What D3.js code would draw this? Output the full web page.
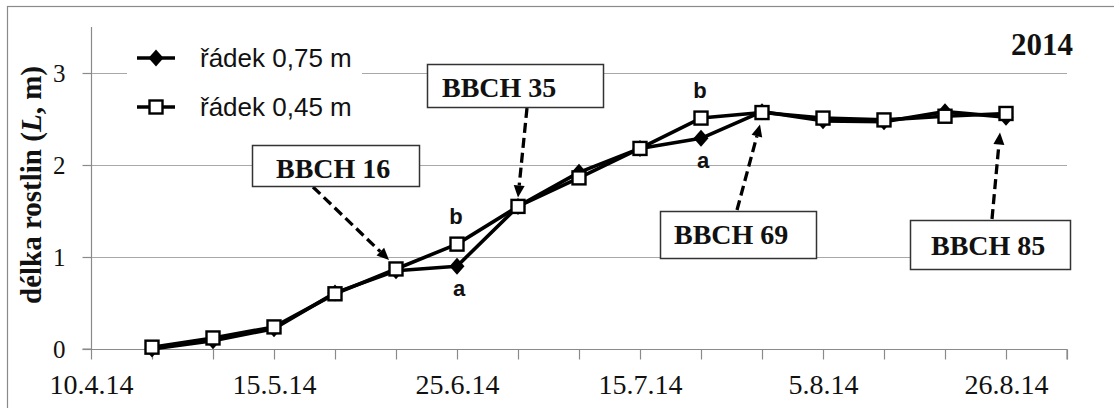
<!DOCTYPE html>
<html>
<head>
<meta charset="utf-8">
<script src="https://cdn.jsdelivr.net/npm/d3@7"></script>
<style>
  body { margin: 0; background: #fff; }
  svg { display: block; }
</style>
</head>
<body>
<svg id="chart" width="1114" height="408"></svg>
<script>
// Sampling slots along the category axis (17 slots, data in slots 1–15)
const slots = d3.range(17);
const tickLabels = [
  [0, "10.4.14"], [3, "15.5.14"], [6, "25.6.14"],
  [9, "15.7.14"], [12, "5.8.14"], [15, "26.8.14"]
];
const sampleSlots = [1, 2, 3, 4, 5, 6, 7, 8, 9, 10, 11, 12, 13, 14, 15];

// Plant length (m) for the two row spacings
const row075 = [0.00, 0.09, 0.22, 0.61, 0.85, 0.90, 1.55, 1.92, 2.18, 2.29, 2.58, 2.48, 2.47, 2.58, 2.52];
const row045 = [0.02, 0.12, 0.24, 0.60, 0.87, 1.14, 1.55, 1.86, 2.18, 2.51, 2.57, 2.51, 2.49, 2.53, 2.56];

const yTicks = [0, 1, 2, 3];

// Significance letters (upper = row 0,45 m, lower = row 0,75 m)
const sigSlots = [6, 10];
const sigUpper = ["b", "b"];
const sigLower = ["a", "a"];

// Growth-stage callouts
const stageLabels = ["BBCH 16", "BBCH 35", "BBCH 69", "BBCH 85"];
const stageSlots = [5, 7, 11, 15];

const svg = d3.select("#chart");
const serif = "'Liberation Serif', 'Times New Roman', serif";
const sans = "'Liberation Sans', Arial, sans-serif";
const ink = "#111";

const x = d3.scalePoint().domain(slots).range([91, 1067]);
const y = d3.scaleLinear().domain([0, 3.5]).range([349, 27]);

// outer frame
svg.append("rect").attr("x", 7.5).attr("y", 6.5).attr("width", 1130).attr("height", 420)
  .attr("fill", "none").attr("stroke", "#8a8a8a").attr("stroke-width", 1.2);

// horizontal grid
svg.append("g").selectAll("line").data(yTicks.filter(d => d > 0)).join("line")
  .attr("x1", x.range()[0]).attr("x2", x.range()[1])
  .attr("y1", d => Math.round(y(d)) + 0.5).attr("y2", d => Math.round(y(d)) + 0.5)
  .attr("stroke", "#a8a8a8").attr("stroke-width", 1.2);

// y axis
const yAxis = svg.append("g").attr("transform", `translate(${x.range()[0] + 0.5},0)`)
  .call(d3.axisLeft(y).tickValues(yTicks).tickSize(9).tickPadding(0).tickFormat(d3.format("d")));
yAxis.select(".domain").attr("stroke", "#8a8a8a").attr("stroke-width", 1.2)
  .attr("d", `M-9,${y(0)}H0V${y(3.5)}`);
yAxis.selectAll(".tick line").attr("stroke", "#8a8a8a").attr("stroke-width", 1.2);
yAxis.selectAll(".tick text").attr("font-family", serif).attr("font-size", 25)
  .attr("fill", ink).attr("x", -26).attr("dy", "0.34em");

// x axis
const xAxis = svg.append("g").attr("transform", `translate(0,${Math.round(y(0)) + 0.5})`)
  .call(d3.axisBottom(x).tickValues(slots).tickSize(10).tickPadding(0)
    .tickFormat(d => { const t = tickLabels.find(p => p[0] === d); return t ? t[1] : ""; }));
xAxis.select(".domain").attr("stroke", "#8a8a8a").attr("stroke-width", 1.2)
  .attr("d", `M${x.range()[0]},0H${x.range()[1]}V10`);
xAxis.selectAll(".tick line").attr("stroke", "#8a8a8a").attr("stroke-width", 1.2);
xAxis.selectAll(".tick text").attr("font-family", serif).attr("font-size", 28)
  .attr("fill", ink).attr("y", 44).attr("dy", 0);

// y axis title
const yTitle = svg.append("text")
  .attr("transform", `translate(41,185) rotate(-90)`)
  .attr("text-anchor", "middle")
  .attr("font-family", serif).attr("font-weight", "bold").attr("font-size", 29).attr("fill", ink);
yTitle.append("tspan").text("délka rostlin (");
yTitle.append("tspan").attr("font-style", "italic").text("L");
yTitle.append("tspan").text(", m)");

// year label
svg.append("text").attr("x", 1073).attr("y", 55).attr("text-anchor", "end")
  .attr("font-family", serif).attr("font-weight", "bold").attr("font-size", 31)
  .attr("fill", ink).text("2014");

// series lines
const pts075 = sampleSlots.map((s, i) => [x(s), y(row075[i])]);
const pts045 = sampleSlots.map((s, i) => [x(s), y(row045[i])]);
const line = d3.line();
[pts075, pts045].forEach(p => {
  svg.append("path").attr("d", line(p)).attr("fill", "none")
    .attr("stroke", "#000").attr("stroke-width", 3.6).attr("stroke-linejoin", "round");
});

const diamond = (cx, cy, w, h) => `M${cx},${cy - h}L${cx + w},${cy}L${cx},${cy + h}L${cx - w},${cy}Z`;

svg.append("g").selectAll("path").data(pts075).join("path")
  .attr("d", d => diamond(d[0], d[1], 7.5, 8.5)).attr("fill", "#000");
svg.append("g").selectAll("rect").data(pts045).join("rect")
  .attr("x", d => d[0] - 6.5).attr("y", d => d[1] - 6.5).attr("width", 13).attr("height", 13)
  .attr("fill", "#fff").attr("stroke", "#000").attr("stroke-width", 2.4);

// significance letters
sigSlots.forEach((s, k) => {
  const i = sampleSlots.indexOf(s);
  svg.append("text").attr("x", x(s) - 1).attr("y", y(row045[i]) - 20).attr("text-anchor", "middle")
    .attr("font-family", sans).attr("font-weight", "bold").attr("font-size", 22).attr("fill", ink)
    .text(sigUpper[k]);
  svg.append("text").attr("x", x(s) + 2).attr("y", y(row075[i]) + 30).attr("text-anchor", "middle")
    .attr("font-family", sans).attr("font-weight", "bold").attr("font-size", 22).attr("fill", ink)
    .text(sigLower[k]);
});

// callout layout: box rectangle, text inset, arrow start, tip offset from the point
const calloutLayout = [
  { box: [252, 145, 167, 41], tx: 276, ty: 178, from: [313, 187], tip: [-7, -9] },
  { box: [427, 64, 176, 43], tx: 442, ty: 97, from: [527, 108], tip: [0, -9] },
  { box: [660, 211, 156, 47], tx: 674, ty: 244, from: [737, 210], tip: [-2, 12] },
  { box: [910, 220, 160, 49], tx: 931, ty: 255, from: [992, 219], tip: [-6, 19] }
];

stageLabels.forEach((label, k) => {
  const L = calloutLayout[k];
  const s = stageSlots[k];
  const i = sampleSlots.indexOf(s);
  const px = x(s), py = y(row045[i]);
  const tip = [px + L.tip[0], py + L.tip[1]];
  const [sx, sy] = L.from;
  const ang = Math.atan2(tip[1] - sy, tip[0] - sx);
  const head = 12, half = 5.5;
  const bx = tip[0] - head * Math.cos(ang), by = tip[1] - head * Math.sin(ang);
  svg.append("line").attr("x1", sx).attr("y1", sy).attr("x2", bx).attr("y2", by)
    .attr("stroke", "#000").attr("stroke-width", 3.3).attr("stroke-dasharray", "10,5");
  const nx = -Math.sin(ang), ny = Math.cos(ang);
  svg.append("path")
    .attr("d", `M${tip[0]},${tip[1]}L${bx + nx * half},${by + ny * half}L${bx - nx * half},${by - ny * half}Z`)
    .attr("fill", "#000");
  svg.append("rect").attr("x", L.box[0] + 0.5).attr("y", L.box[1] + 0.5)
    .attr("width", L.box[2]).attr("height", L.box[3])
    .attr("fill", "#fff").attr("stroke", "#333").attr("stroke-width", 1.5);
  svg.append("text").attr("x", L.tx).attr("y", L.ty)
    .attr("font-family", serif).attr("font-weight", "bold").attr("font-size", 28)
    .attr("fill", ink).text(label);
});

// legend
const legend = svg.append("g");
legend.append("rect").attr("x", 127).attr("y", 36).attr("width", 235).attr("height", 92).attr("fill", "#fff");
const legendRows = [
  { label: "řádek 0,75 m", y: 58, mark: "diamond" },
  { label: "řádek 0,45 m", y: 107, mark: "square" }
];
legendRows.forEach(r => {
  legend.append("line").attr("x1", 137).attr("x2", 175).attr("y1", r.y).attr("y2", r.y)
    .attr("stroke", "#000").attr("stroke-width", 3.6);
  if (r.mark === "diamond") {
    legend.append("path").attr("d", diamond(156, r.y, 7.5, 8.5)).attr("fill", "#000");
  } else {
    legend.append("rect").attr("x", 149.5).attr("y", r.y - 6.5).attr("width", 13).attr("height", 13)
      .attr("fill", "#fff").attr("stroke", "#000").attr("stroke-width", 2.4);
  }
  legend.append("text").attr("x", 200).attr("y", r.y + 9)
    .attr("font-family", sans).attr("font-size", 26).attr("fill", ink).text(r.label);
});
</script>
</body>
</html>
